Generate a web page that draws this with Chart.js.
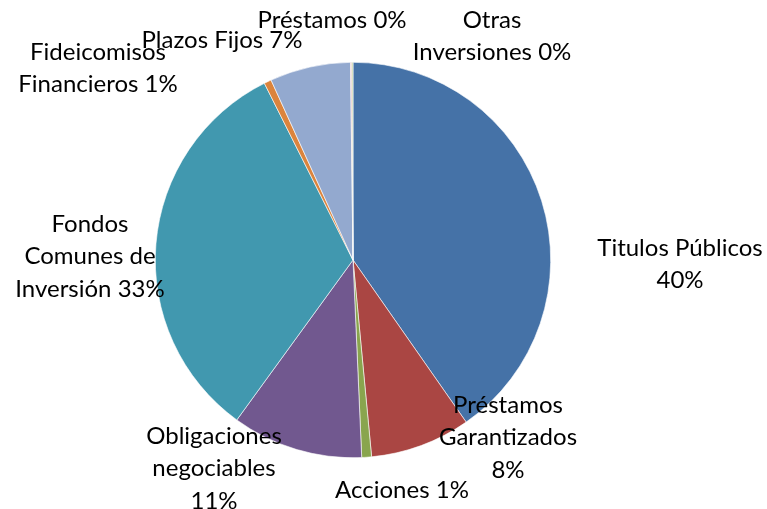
<!DOCTYPE html>
<html>
<head>
<meta charset="utf-8">
<script src="https://cdn.jsdelivr.net/npm/chart.js@4"></script>
<style>
  html, body { margin: 0; padding: 0; background: #fff; }
  #wrap { width: 767px; height: 509px; }
</style>
</head>
<body>
<div id="wrap"><canvas id="pie"></canvas></div>
<script>
// Cartera de inversiones (%)
const categories = ['Titulos Públicos', 'Préstamos Garantizados', 'Acciones', 'Obligaciones negociables',
    'Fondos Comunes de Inversión', 'Fideicomisos Financieros', 'Plazos Fijos', 'Préstamos', 'Otras Inversiones'];
const shares = [40.3, 8.2, 0.8, 10.7, 32.6, 0.6, 6.6, 0.1, 0.1];
const sliceColors = ['#4572A7', '#AA4643', '#89A54E', '#71588F', '#4198AF', '#DB843D', '#93A9CF', '#D19392', '#B9CD96'];

// how each label is broken into lines (text only)
const labelLines = [
    ['Titulos Públicos'],
    ['Préstamos', 'Garantizados'],
    ['Acciones'],
    ['Obligaciones', 'negociables'],
    ['Fondos', 'Comunes de', 'Inversión'],
    ['Fideicomisos', 'Financieros'],
    ['Plazos Fijos'],
    ['Préstamos'],
    ['Otras', 'Inversiones']
];
// whether the percentage sits on its own line
const pctOwnLine = [true, true, false, true, false, false, false, false, false];

// label placement (centre of first line), relative to pie centre, in px
const labelPos = [
    [327, -12], [155, 145], [49, 230], [-139, 176], [-263, -36], [-255, -208], [-131, -220], [-21, -240], [139, -240]
];

const total = shares.reduce((a, b) => a + b, 0);

const labelPlugin = {
    id: 'sliceLabels',
    afterDraw(chart) {
        const ctx = chart.ctx;
        const arc = chart.getDatasetMeta(0).data[0];
        const cx = arc.x, cy = arc.y;
        ctx.save();
        ctx.font = '24px Lato, "Open Sans", sans-serif';
        ctx.fillStyle = '#000';
        ctx.textAlign = 'center';
        ctx.textBaseline = 'middle';
        const lh = 32.5;
        categories.forEach((c, i) => {
            const pct = Math.round(shares[i] / total * 100) + '%';
            const lines = labelLines[i].slice();
            if (pctOwnLine[i]) lines.push(pct);
            else lines[lines.length - 1] += ' ' + pct;
            const x = cx + labelPos[i][0];
            let y = cy + labelPos[i][1];
            lines.forEach((l, k) => ctx.fillText(l, x, y + k * lh));
        });
        ctx.restore();
    }
};

const BloomPie = {
    chart: null,
    init: function() {
        this.chart = new Chart(document.getElementById('pie').getContext('2d'), {
            type: 'pie',
            data: {
                labels: categories,
                datasets: [{
                    data: shares,
                    backgroundColor: sliceColors,
                    borderColor: '#ffffff',
                    borderWidth: 0.6
                }]
            },
            options: {
                responsive: true,
                maintainAspectRatio: false,
                animation: false,
                layout: { padding: { left: 155, right: 216, top: 62, bottom: 51 } },
                plugins: {
                    legend: { display: false },
                    tooltip: { enabled: false }
                }
            },
            plugins: [labelPlugin]
        });
    }
};

BloomPie.init();
</script>
</body>
</html>
